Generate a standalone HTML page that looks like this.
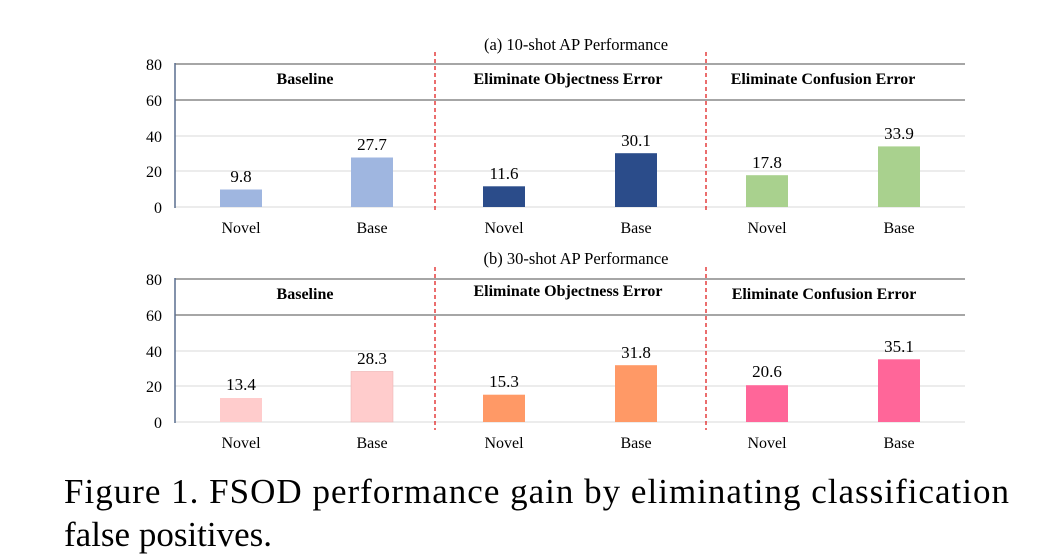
<!DOCTYPE html>
<html><head><meta charset="utf-8"><style>body{margin:0;background:#fff}svg{display:block}</style></head><body>
<svg width="1060" height="557" xmlns="http://www.w3.org/2000/svg" font-family="Liberation Serif, serif">
<rect width="1060" height="557" fill="#fff"/>
<!-- top chart -->
<text x="576" y="50" font-size="16.5" text-anchor="middle">(a) 10-shot AP Performance</text>
<line x1="175" y1="64" x2="965" y2="64" stroke="#a6a6a6" stroke-width="2"/>
<line x1="175" y1="100" x2="965" y2="100" stroke="#a6a6a6" stroke-width="2"/>
<line x1="175" y1="136" x2="965" y2="136" stroke="#d9d9d9"/>
<line x1="175" y1="171" x2="965" y2="171" stroke="#d9d9d9"/>
<line x1="175" y1="207" x2="965" y2="207" stroke="#d9d9d9"/>
<line x1="175" y1="63" x2="175" y2="208" stroke="#5a6f8f" stroke-width="1.5"/>
<g font-size="16" text-anchor="end"><text x="162" y="70">80</text><text x="162" y="106">60</text><text x="162" y="142">40</text><text x="162" y="177">20</text><text x="162" y="213">0</text></g>
<line x1="435" y1="52" x2="435" y2="212" stroke="#e02020" stroke-width="1.3" stroke-dasharray="4,3"/>
<line x1="706" y1="52" x2="706" y2="212" stroke="#e02020" stroke-width="1.3" stroke-dasharray="4,3"/>
<g font-size="16" font-weight="bold" text-anchor="middle"><text x="305" y="84">Baseline</text><text x="568" y="84">Eliminate Objectness Error</text><text x="823" y="84">Eliminate Confusion Error</text></g>
<rect x="220" y="189.5" width="42" height="17.5" fill="#9fb6e0"/>
<rect x="351" y="157.5" width="42" height="49.5" fill="#9fb6e0"/>
<rect x="483" y="186.3" width="42" height="20.7" fill="#2b4c8a"/>
<rect x="615" y="153.2" width="42" height="53.8" fill="#2b4c8a"/>
<rect x="746" y="175.2" width="42" height="31.8" fill="#a9d18e"/>
<rect x="878" y="146.4" width="42" height="60.6" fill="#a9d18e"/>
<g font-size="17" text-anchor="middle"><text x="241" y="182">9.8</text><text x="372" y="150">27.7</text><text x="504" y="179">11.6</text><text x="636" y="146">30.1</text><text x="767" y="168">17.8</text><text x="899" y="139">33.9</text>
<text x="241" y="233" font-size="16">Novel</text><text x="372" y="233" font-size="16">Base</text><text x="504" y="233" font-size="16">Novel</text><text x="636" y="233" font-size="16">Base</text><text x="767" y="233" font-size="16">Novel</text><text x="899" y="233" font-size="16">Base</text></g>
<!-- bottom chart -->
<text x="576" y="264" font-size="16.5" text-anchor="middle">(b) 30-shot AP Performance</text>
<line x1="175" y1="279" x2="965" y2="279" stroke="#a6a6a6" stroke-width="2"/>
<line x1="175" y1="315" x2="965" y2="315" stroke="#a6a6a6" stroke-width="2"/>
<line x1="175" y1="351" x2="965" y2="351" stroke="#d9d9d9"/>
<line x1="175" y1="386" x2="965" y2="386" stroke="#d9d9d9"/>
<line x1="175" y1="422" x2="965" y2="422" stroke="#d9d9d9"/>
<line x1="175" y1="278" x2="175" y2="423" stroke="#5a6f8f" stroke-width="1.5"/>
<g font-size="16" text-anchor="end"><text x="162" y="285">80</text><text x="162" y="321">60</text><text x="162" y="357">40</text><text x="162" y="392">20</text><text x="162" y="428">0</text></g>
<line x1="435" y1="267" x2="435" y2="430" stroke="#e02020" stroke-width="1.3" stroke-dasharray="4,3"/>
<line x1="706" y1="267" x2="706" y2="430" stroke="#e02020" stroke-width="1.3" stroke-dasharray="4,3"/>
<g font-size="16" font-weight="bold" text-anchor="middle"><text x="305" y="299">Baseline</text><text x="568" y="296">Eliminate Objectness Error</text><text x="824" y="299">Eliminate Confusion Error</text></g>
<rect x="220" y="398" width="42" height="24" fill="#ffcccc"/>
<rect x="351" y="371.4" width="42" height="50.6" fill="#ffcccc" stroke="#e8b0b0" stroke-width="0.5"/>
<rect x="483" y="394.7" width="42" height="27.3" fill="#ff9966"/>
<rect x="615" y="365.2" width="42" height="56.8" fill="#ff9966"/>
<rect x="746" y="385.2" width="42" height="36.8" fill="#ff6699"/>
<rect x="878" y="359.3" width="42" height="62.7" fill="#ff6699"/>
<g font-size="17" text-anchor="middle"><text x="241" y="390">13.4</text><text x="372" y="364">28.3</text><text x="504" y="387">15.3</text><text x="636" y="358">31.8</text><text x="767" y="377">20.6</text><text x="899" y="352">35.1</text>
<text x="241" y="448" font-size="16">Novel</text><text x="372" y="448" font-size="16">Base</text><text x="504" y="448" font-size="16">Novel</text><text x="636" y="448" font-size="16">Base</text><text x="767" y="448" font-size="16">Novel</text><text x="899" y="448" font-size="16">Base</text></g>
<text x="64" y="503" font-size="35" textLength="945" lengthAdjust="spacing">Figure 1. FSOD performance gain by eliminating classification</text>
<text x="64" y="546" font-size="35">false positives.</text>
</svg>
</body></html>
